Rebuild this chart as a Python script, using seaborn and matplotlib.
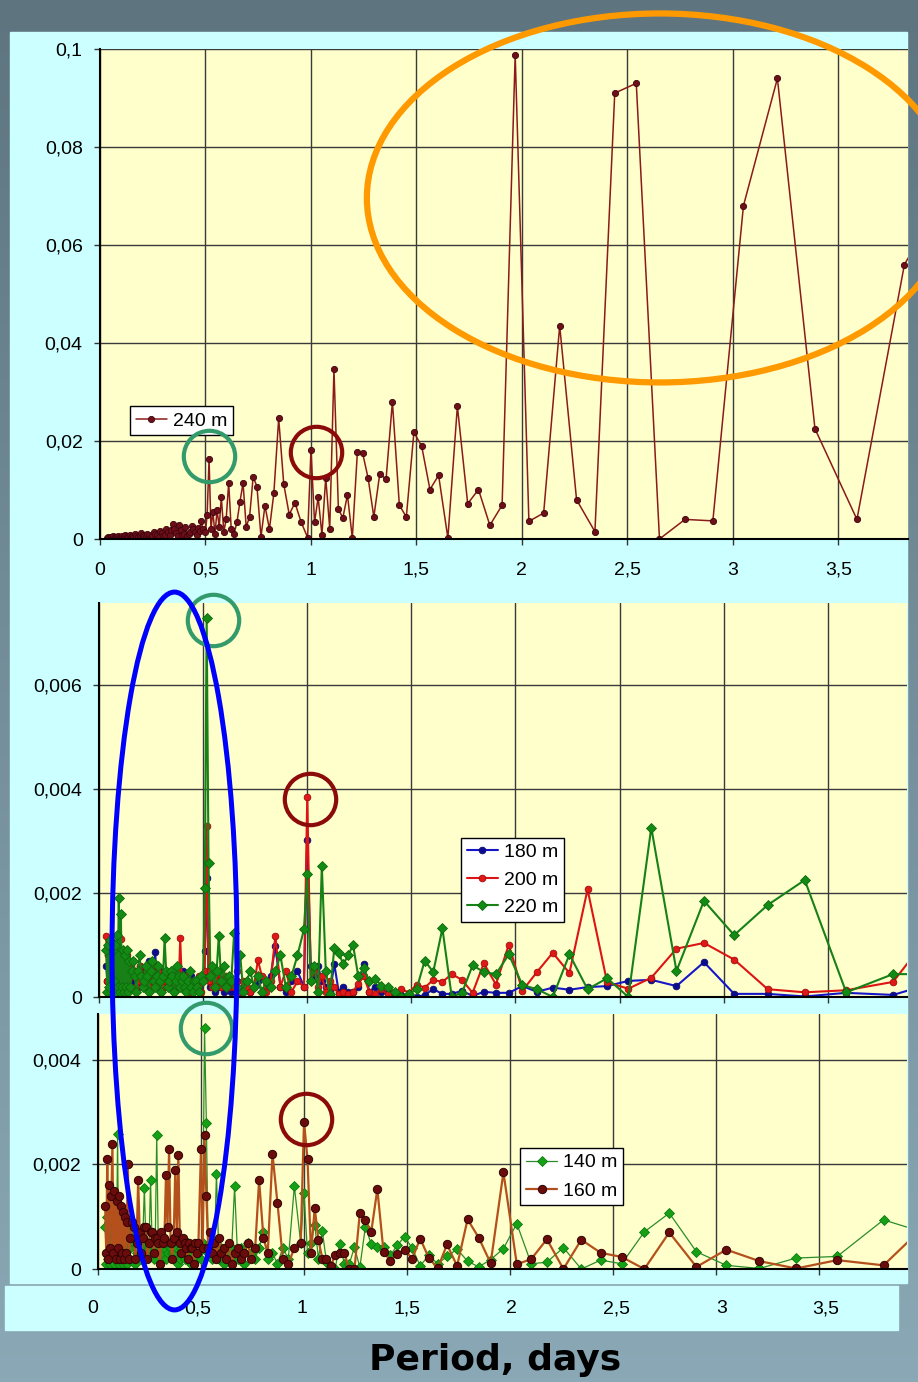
import numpy as np
import matplotlib
matplotlib.use("Agg")
import matplotlib.pyplot as plt
import seaborn as sns
from matplotlib.patches import Ellipse, Rectangle
from matplotlib.colors import LinearSegmentedColormap
from matplotlib.ticker import FuncFormatter, MultipleLocator
from matplotlib import transforms

# ---- data ----
# period grid in days (same for every depth)
PERIOD = [
    0.035, 0.040, 0.045, 0.050, 0.055, 0.060, 0.065, 0.070, 0.075, 0.080, 0.085, 0.090,
    0.095, 0.100, 0.105, 0.110, 0.115, 0.120, 0.125, 0.130, 0.135, 0.140, 0.145, 0.150,
    0.1575, 0.165, 0.1725, 0.180, 0.1875, 0.195, 0.2025, 0.210, 0.2175, 0.225, 0.2325, 0.240,
    0.2475, 0.255, 0.2625, 0.270, 0.2775, 0.285, 0.2925, 0.300, 0.3075, 0.315, 0.3225, 0.330,
    0.3375, 0.345, 0.3525, 0.360, 0.3675, 0.375, 0.3825, 0.390, 0.3975, 0.405, 0.4125, 0.420,
    0.4275, 0.435, 0.4425, 0.450, 0.4575, 0.465, 0.4725, 0.480, 0.4875,
    0.500, 0.508, 0.517, 0.526, 0.535, 0.545, 0.555, 0.565, 0.575, 0.587, 0.598, 0.610,
    0.622, 0.635, 0.649, 0.663, 0.678, 0.693, 0.709, 0.726, 0.744, 0.763, 0.782, 0.803,
    0.824, 0.847, 0.871, 0.897, 0.924, 0.953, 0.984,
    1.000, 1.017, 1.034, 1.052, 1.070, 1.089, 1.109, 1.130, 1.151, 1.173, 1.196, 1.220,
    1.245, 1.271, 1.298, 1.326, 1.356, 1.386, 1.419, 1.452, 1.488, 1.525, 1.564, 1.605,
    1.649, 1.694, 1.743, 1.794, 1.848, 1.906, 1.968, 2.033, 2.103, 2.179, 2.259, 2.346,
    2.440, 2.542, 2.652, 2.773, 2.905, 3.050, 3.211, 3.389, 3.588, 3.813, 4.067,
]

# 240 m, units of 1e-3
S240 = [
    0.3, 0.5, 0.2, 0.4, 0.3, 0.6, 0.2, 0.5, 0.4, 0.3, 0.6, 0.2, 0.5, 0.4, 0.7, 0.3, 0.5, 0.8, 0.3, 0.6, 0.4, 0.9, 0.5, 0.7,
    0.6, 1.0, 0.7, 0.4, 0.9, 1.2, 0.8, 0.6, 0.4, 1.0, 0.9, 0.5, 0.7, 1.4, 1.1, 0.8, 0.5, 1.6, 1.2, 0.6, 0.8, 2.0, 1.5,
    0.9, 1.9, 3.0, 2.0, 1.2, 0.7, 2.9, 1.8, 0.8, 1.1, 2.4, 0.6, 1.0, 1.4, 2.7, 2.1, 1.5, 0.9, 2.2, 1.6, 3.7, 2.0,
    1.5, 5.0, 16.3, 2.0, 5.6, 1.0, 5.9, 2.5, 8.5, 1.5, 4.0, 11.5, 2.0, 1.0, 3.4, 7.5, 11.4, 2.5, 4.5, 12.7, 10.7, 0.5,
    6.8, 2.0, 9.3, 24.6, 11.2, 5.0, 7.4, 3.5, 0.3,
    18.2, 3.4, 8.5, 0.9, 12.5, 2.1, 34.6, 6.1, 4.3, 9.0, 0.2, 17.7, 17.5, 12.4, 4.5, 13.3, 12.2, 28.0, 6.9, 4.5,
    21.8, 18.9, 10.1, 13.0, 0.2, 27.1, 7.2, 10.1, 2.8, 6.9, 98.8, 3.6, 5.3, 43.5, 8.0, 1.5, 91.0, 93.0, 0.0, 4.0,
    3.7, 68.0, 94.0, 22.5, 4.0, 56.0, 75.0,
]

# 180 / 200 / 220 m, units of 1e-4
S180 = [
    6, 3, 8, 2, 7, 4, 9, 3, 6, 5, 8, 2, 7, 4, 6, 3, 8, 5, 4, 7, 3, 6, 5, 4,
    3, 5, 4, 3, 2, 6, 5, 2, 3, 4, 2, 7, 4, 3, 3, 8.7, 2, 4, 5, 3, 2, 4, 3,
    2, 4, 5, 2, 3, 3, 4, 4, 2, 2, 5, 3, 3, 2, 4, 4, 2, 2, 3, 3, 2, 4,
    3, 8.8, 22.9, 4, 2, 3, 1, 5, 2, 3, 1, 2, 4, 1, 2, 3, 1, 2, 3, 1, 2, 3, 1, 2, 4, 9.8, 2, 1, 3, 5, 2,
    30.3, 6, 4, 6, 3, 2, 1, 6.3, 1, 2, 1, 1, 2, 6.4, 1, 2, 1, 1, 0.5, 0.3,
    0.1, 0.0, 0.4, 1.5, 0.6, 0.6, 1.2, 0.2, 1.0, 0.8, 0.8, 2.1, 1.0, 1.8, 1.4, 1.9, 2.1, 3.1, 3.3, 2.1,
    6.7, 0.6, 0.6, 0.1, 0.8, 0.4, 3.4,
]
S200 = [
    11.7, 3, 8, 2, 9, 3, 8, 2, 10, 3, 9, 2, 7, 3, 11.2, 2, 8, 3, 7, 2, 8, 3, 6, 2,
    4, 7, 5, 2, 3, 6, 4, 3, 2, 5, 4, 2, 3, 6, 4, 2, 3, 5, 3, 1, 2, 4, 3,
    2, 2, 4, 3, 1, 2, 3, 2, 11.3, 3, 2, 2, 4, 3, 1, 2, 3, 3, 2, 2, 4, 1,
    4, 5, 32.9, 3, 5, 2, 4, 3, 5, 2, 3, 4, 2, 3, 2, 5, 1, 3, 2, 1, 2, 7.1, 4, 1, 3, 11.8, 2, 5, 1, 3, 2,
    38.5, 3, 5, 2, 4, 1, 3, 2, 0.5, 1, 0.5, 1, 2.5, 4, 1, 0.5, 1.5, 0.5, 1, 1.6,
    0.8, 2.4, 1.8, 3.3, 2.9, 4.4, 3.3, 0.8, 6.5, 2.4, 10.1, 1.2, 4.8, 8.5, 4.6, 20.7, 2.8, 1.6, 3.7, 9.3,
    10.4, 7.2, 1.5, 0.9, 1.3, 2.9, 16.0,
]
S220 = [
    9, 1, 10, 2, 11, 0, 9, 3, 10, 1, 12, 2, 19, 1, 16, 2, 9, 1, 8, 2, 9, 1, 7, 2,
    5, 7, 4, 1, 5, 8, 4, 2, 3, 6, 4, 1, 5, 7, 3, 2, 4, 6, 3, 1, 4, 11.3, 5,
    2, 3, 5, 4, 1, 3, 6, 4, 2, 3, 4, 2, 1, 3, 5, 2, 1, 3, 3, 2, 1, 4,
    3, 21, 73, 25.7, 4, 6, 2, 5, 11.7, 3, 6, 2, 4, 3, 12.4, 2, 8, 1, 3, 5, 2, 4, 1, 3, 2, 5, 8, 2, 4, 8, 13,
    23.6, 3, 6, 1, 25.2, 5, 0.5, 9.5, 8.5, 6.3, 8, 10, 4, 5.5, 3, 3.5, 2.2, 2, 1, 0,
    0.5, 1.5, 7.0, 4.8, 13.2, 0, 0.8, 6.1, 4.8, 4.4, 8.2, 2.3, 1.5, 0, 8.2, 1.5, 3.6, 0, 32.6, 5.0,
    18.5, 11.9, 17.7, 22.5, 0.9, 4.4, 4.4,
]

# 140 / 160 m, units of 1e-4
S140 = [
    8, 1, 10, 2, 9, 1, 12, 2, 11, 1, 9, 2, 25.8, 1, 10, 2, 8, 1, 9, 2, 7, 1, 8, 2,
    4, 7, 5, 1, 3, 6, 4, 2, 6, 15.5, 5, 3, 4, 17, 5, 2, 4, 25.6, 5, 3, 3, 6, 4,
    2, 3, 5, 4, 3, 3, 6, 4, 1, 2, 4, 3, 2, 3, 5, 2, 1, 3, 4, 2, 2, 3,
    2, 5, 46.2, 28, 3, 5, 2, 4, 18.2, 2, 4, 1, 3, 2, 4, 15.8, 2, 4, 1, 5, 3, 2, 4, 7, 2, 3, 1, 4, 2, 15.8, 5,
    14.6, 3, 5, 8.5, 2, 7.2, 1.4, 0.5, 0, 4.8, 1.0, 1.0, 4.2, 0.3, 8.1, 4.8, 4.3, 4.2, 2.6, 4.5,
    6.2, 4.0, 0.6, 2.6, 1.0, 2.4, 3.8, 1.5, 0.4, 1.8, 3.9, 8.7, 1.0, 1.3, 4.1, 0, 1.7, 1.0, 7.1, 10.7,
    3.3, 0.7, 0.1, 2.1, 2.4, 9.4, 6.3,
]
S160 = [
    12, 3, 21, 2, 16, 4, 14, 24, 3, 15, 2, 13, 4, 14, 2, 12, 3, 11, 2, 10, 3, 9, 20, 2,
    6, 9, 8, 2, 5, 17, 7, 3, 6, 8, 8, 2, 5, 7, 7, 3, 6, 6, 5, 1, 7, 5, 6,
    18, 8, 23, 5, 2, 6, 19, 7, 21.8, 5, 3, 6, 5, 4, 2, 5, 4, 4, 1, 5, 3, 5,
    23, 4, 25.6, 14, 4, 7, 3, 5, 2, 6, 3, 4, 2, 5, 1, 3, 4, 2, 3, 5, 2, 4, 17, 6, 3, 22, 12.7, 2, 1, 4, 5,
    28.2, 21, 3, 11.7, 5.5, 2, 2.0, 0.5, 2.7, 3, 3.0, 0, 0, 10.7, 9.4, 7.0, 15.3, 3.3, 1.6, 2.9,
    3.7, 2.0, 5.8, 2.2, 0.1, 4.7, 0.6, 9.5, 6.0, 1.1, 18.5, 0.9, 1.9, 5.7, 0, 5.6, 3.1, 2.3, 0, 7.0,
    0.4, 3.7, 1.5, 0.1, 1.7, 0.7, 10.3,
]

for s in (S240, S180, S200, S220, S140, S160):
    assert len(s) == len(PERIOD), len(s)

period = np.array(PERIOD)
y240 = np.array(S240) * 1e-3
y180, y200, y220 = (np.array(s) * 1e-4 for s in (S180, S200, S220))
y140, y160 = (np.array(s) * 1e-4 for s in (S140, S160))

# ---- look ----
sns.set_style("ticks")
plt.rcParams["font.family"] = ["Liberation Sans", "DejaVu Sans"]
plt.rcParams["text.color"] = "black"
plt.rcParams["xtick.color"] = "black"
plt.rcParams["ytick.color"] = "black"

W, H = 918, 1382
CYAN = "#ccffff"
YELLOW = "#ffffcc"

fig = plt.figure(figsize=(W / 100, H / 100), dpi=100)

# slate gradient backdrop + cyan panels
bg = fig.add_axes([0, 0, 1, 1], zorder=-10)
grad = np.linspace(0, 1, 256).reshape(-1, 1)
bg.imshow(grad, aspect="auto", extent=(0, W, H, 0),
          cmap=LinearSegmentedColormap.from_list("bg", ["#5e7580", "#8aa8b5"]))
bg.add_patch(Rectangle((10, 32), 897, 1251, color=CYAN))
bg.add_patch(Rectangle((5, 1286), 893, 44, color=CYAN))
bg.set_xlim(0, W)
bg.set_ylim(H, 0)
bg.axis("off")


def px_axes(x0, y0, x1, y1):
    return fig.add_axes([x0 / W, 1 - y1 / H, (x1 - x0) / W, (y1 - y0) / H])


comma = FuncFormatter(lambda v, p: f"{v:g}".replace(".", ","))


def style(ax, xmax, ymax, ystep, xlabels=False):
    ax.set_facecolor(YELLOW)
    ax.set_xlim(0, xmax)
    ax.set_ylim(0, ymax)
    ax.xaxis.set_major_locator(MultipleLocator(0.5))
    ax.yaxis.set_major_locator(MultipleLocator(ystep))
    ax.xaxis.set_major_formatter(comma)
    ax.yaxis.set_major_formatter(comma)
    ax.grid(True, color="#3a3a3a", lw=1.0)
    ax.set_axisbelow(True)
    for s in ("top", "right"):
        ax.spines[s].set_visible(False)
    for s in ("left", "bottom"):
        ax.spines[s].set_color("black")
        ax.spines[s].set_linewidth(1.5)
    ax.tick_params(axis="both", direction="out", length=4.5, width=1, color="#333333",
                   labelsize=14, labelcolor="black")
    ax.tick_params(axis="y", pad=8)
    ax.tick_params(axis="x", pad=12, labelbottom=xlabels)
    ax.set_xlabel("")
    ax.set_ylabel("")


def legend(ax, x, y, spacing=0.45):
    lg = ax.legend(loc="upper left", bbox_to_anchor=(x, y), borderaxespad=0,
                   fontsize=14, frameon=True, fancybox=False, framealpha=1,
                   edgecolor="black", facecolor="white", handlelength=1.6,
                   handletextpad=0.3, borderpad=0.3, labelspacing=spacing)
    lg.get_frame().set_linewidth(1.0)
    for t in lg.get_texts():
        t.set_color("black")
    lg.set_zorder(15)


def ring(ax, x, y, color, dx=0, dy=0):
    tr = transforms.offset_copy(ax.transData, fig=fig, x=dx, y=dy, units="dots")
    ax.plot([x], [y], marker="o", ms=37, mfc="none", mec=color, mew=3.0,
            transform=tr, clip_on=False, zorder=20)


ax1 = px_axes(100, 49, 908, 539)
ax2 = px_axes(99, 603, 907, 997)
ax3 = px_axes(98, 1014, 907, 1269)
axs = px_axes(5, 1286, 898, 1296)

# panel 1 : 240 m
sns.lineplot(x=period, y=y240, ax=ax1, estimator=None, color="#8b1a1a", linewidth=1.1,
             marker="o", markersize=4.5, markerfacecolor="#6e0f18",
             markeredgecolor="#3e0410", markeredgewidth=0.6, label="240 m")
style(ax1, 3.83, 0.1, 0.02, xlabels=True)
legend(ax1, 0.037, 0.271, spacing=0.45)

# panel 2 : 180 / 200 / 220 m
sns.lineplot(x=period, y=y180, ax=ax2, estimator=None, color="#1616c8", linewidth=1.5,
             marker="o", markersize=4.8, markerfacecolor="#0c0c90",
             markeredgecolor="#0c0c70", markeredgewidth=0.6, label="180 m")
sns.lineplot(x=period, y=y200, ax=ax2, estimator=None, color="#dd1414", linewidth=1.5,
             marker="o", markersize=4.8, markerfacecolor="#e01818",
             markeredgecolor="#a00c0c", markeredgewidth=0.6, label="200 m")
sns.lineplot(x=period, y=y220, ax=ax2, estimator=None, color="#178017", linewidth=1.5,
             marker="D", markersize=4.6, markerfacecolor="#138a13",
             markeredgecolor="#0d6a0d", markeredgewidth=0.6, label="220 m")
style(ax2, 3.88, 0.00758, 0.002)
legend(ax2, 0.448, 0.404, spacing=0.5)

# panel 3 : 140 / 160 m
sns.lineplot(x=period, y=y140, ax=ax3, estimator=None, color="#2a8c2a", linewidth=0.9,
             marker="D", markersize=4.6, markerfacecolor="#16a016",
             markeredgecolor="#0e7a0e", markeredgewidth=0.6, label="140 m")
sns.lineplot(x=period, y=y160, ax=ax3, estimator=None, color="#b4501c", linewidth=1.6,
             marker="o", markersize=6.0, markerfacecolor="#6a0c0c",
             markeredgecolor="#300303", markeredgewidth=0.7, label="160 m")
style(ax3, 3.927, 0.00488, 0.002)
legend(ax3, 0.522, 0.475, spacing=0.55)

# tick labels of the bottom panel sit in their own strip
axs.set_xlim(-0.42, 3.844)
axs.set_xticks([0, 0.5, 1, 1.5, 2, 2.5, 3, 3.5])
axs.xaxis.set_major_formatter(comma)
axs.tick_params(axis="x", length=0, labelsize=14, pad=3, labelcolor="black")
axs.set_yticks([])
axs.patch.set_visible(False)
for s in axs.spines.values():
    s.set_visible(False)

fig.text(495 / W, 1 - 1360 / H, "Period, days", ha="center", va="center",
         fontsize=26, fontweight="bold", color="black", family=["DejaVu Sans"])

# highlight rings on the daily / half-daily peaks
i_half = PERIOD.index(0.517)
i_day = PERIOD.index(1.000)
GREEN_RING = "#339a6c"
RED_RING = "#8b0a0a"
ring(ax1, period[i_half], y240[i_half], GREEN_RING, dy=3)
ring(ax1, period[i_day], y240[i_day], RED_RING, dx=5, dy=-2)
ring(ax2, period[i_half], y220[i_half], GREEN_RING, dx=6, dy=-2)
ring(ax2, period[i_day], y200[i_day], RED_RING, dx=2.5, dy=-2.5)
ring(ax3, period[i_half], y140[i_half], GREEN_RING, dx=1.5)
ring(ax3, period[i_day], y160[i_day], RED_RING, dx=2, dy=2.7)

# big ellipses
fig.add_artist(Ellipse((2.654, 0.0696), 2.778, 0.0753, transform=ax1.transData,
                       fill=False, ec="#ff9900", lw=4.5, zorder=5))
fig.add_artist(Ellipse((0.3626, 0.000885), 0.600, 0.01381, transform=ax2.transData,
                       fill=False, ec="#0000ff", lw=3.6, zorder=5))

fig.savefig("out.png", dpi=100)
